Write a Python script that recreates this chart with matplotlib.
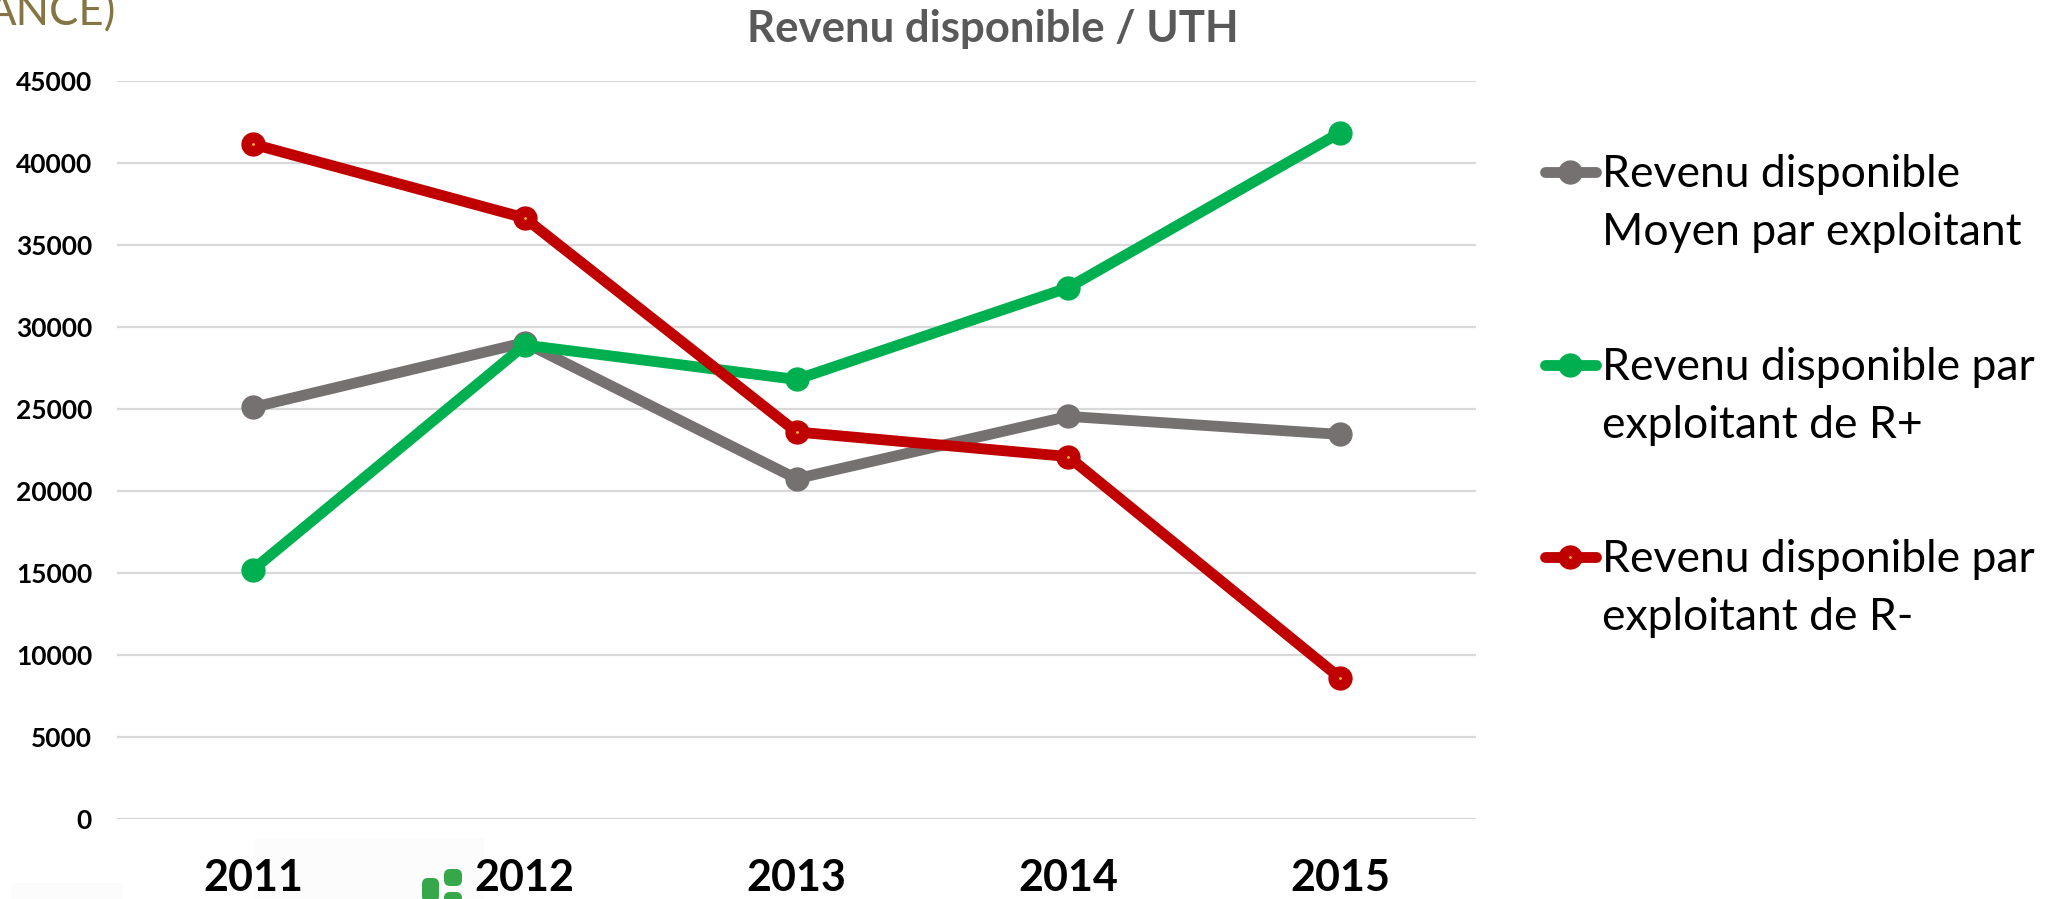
import matplotlib.pyplot as plt
from matplotlib.lines import Line2D
from matplotlib.patches import FancyBboxPatch, Rectangle
from matplotlib.transforms import IdentityTransform

years = ["2011", "2012", "2013", "2014", "2015"]
moyen = [25100, 29050, 20750, 24550, 23450]
r_plus = [15200, 28900, 26800, 32400, 41850]
r_moins = [41150, 36650, 23600, 22100, 8600]
yticks = [0, 5000, 10000, 15000, 20000, 25000, 30000, 35000, 40000, 45000]
labels = ["Revenu disponible\nMoyen par exploitant", "Revenu disponible par\nexploitant de R+", "Revenu disponible par\nexploitant de R-"]
colors = ["#767171", "#00B050", "#C00000"]

plt.rcParams["font.family"] = ["Lato", "DejaVu Sans"]

W, H = 2056, 899
fig = plt.figure(figsize=(W / 100, H / 100), dpi=100)
ax = fig.add_axes([117 / W, 1 - 819 / H, (1476 - 117) / W, (819 - 81) / H])

# faint leftovers of the slide background under the chart
fig.add_artist(Rectangle((254, 0), 230, 61, transform=IdentityTransform(), fc="#FCFCFC", ec="none", zorder=-1))
fig.add_artist(Rectangle((11, 0), 112, 16, transform=IdentityTransform(), fc="#FCFCFC", ec="none", zorder=-1))

x = range(len(years))
lw = 7.8
ms = 16.5
for vals, col in zip([moyen, r_plus, r_moins], colors):
    ax.plot(x, vals, "-o", color=col, lw=lw, ms=ms, solid_capstyle="round", clip_on=False)
ax.plot(x, r_moins, "o", color="#FFC000", ms=1, clip_on=False)

ax.set_xlim(-0.5, 4.5)
ax.set_ylim(0, 45000)
ax.set_yticks(yticks)
ax.set_xticks(list(x))
ax.set_xticklabels(years, fontsize=31, fontweight="bold", color="black")
ax.tick_params(axis="x", length=0, pad=28)
ax.tick_params(axis="y", length=0, pad=18, labelsize=19, labelcolor="black")
for lab in ax.get_yticklabels():
    lab.set_fontweight("bold")
ax.patch.set_alpha(0)
ax.grid(axis="y", color="#D9D9D9", lw=1.6)
ax.set_axisbelow(True)
for s in ax.spines.values():
    s.set_visible(False)

fig.text(993 / W, 1 - 29 / H, "Revenu disponible / UTH", fontsize=31.5, fontweight="bold",
         color="#595959", ha="center", va="center")
fig.text(116 / W, 1 - 25 / H, "ANCE)", fontsize=31.5, color="#857545", ha="right", va="baseline")

# legend drawn by hand: key sits on the first line of each label
for label, col, ky in zip(labels, colors, [172, 364.5, 557]):
    fig.add_artist(Line2D([1545 / W, 1570 / W, 1596 / W], [1 - ky / H] * 3, color=col, lw=lw, marker="o", ms=ms,
                          markevery=[1], solid_capstyle="round", transform=fig.transFigure))
    if col == "#C00000":
        fig.add_artist(Line2D([1570 / W], [1 - ky / H], color="#FFC000", marker="o", ms=1, transform=fig.transFigure))
    fig.text(1602 / W, 1 - (ky - 18) / H, label, fontsize=32, color="black", va="top", ha="left", linespacing=1.53)

# green logo fragment below the axis
for bx, by, bw, bh in [(422, 878, 17, 24), (444, 869, 18, 17), (444, 892, 18, 14)]:
    fig.add_artist(FancyBboxPatch((bx, H - (by + bh)), bw, bh, boxstyle="round,pad=0,rounding_size=6",
                                  transform=IdentityTransform(), fc="#36A84A", ec="none"))

fig.savefig("out.png", dpi=100)
